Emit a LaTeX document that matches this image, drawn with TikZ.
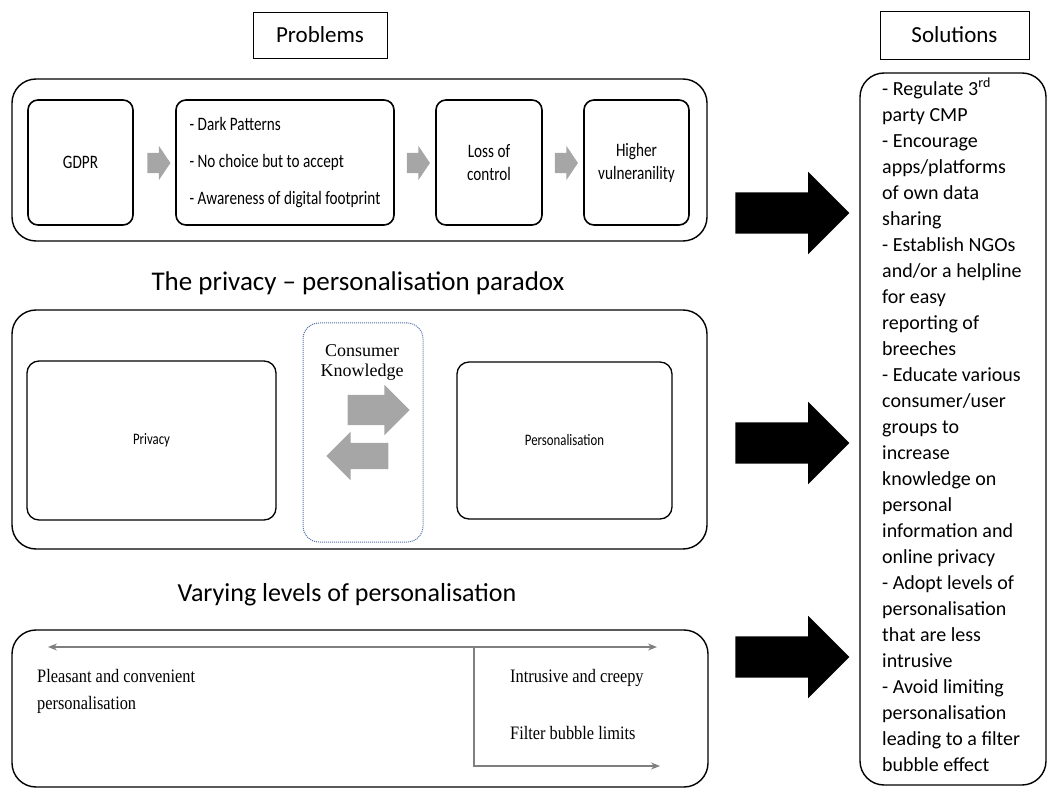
\documentclass[tikz,border=0pt]{standalone}
\usepackage{fontspec}
\setmainfont{Carlito}
\newfontfamily\narrowfont[FakeStretch=0.8]{Carlito}
\newfontfamily\serifnarrow[FakeStretch=0.86]{Liberation Serif}
\newfontfamily\seriffont{Liberation Serif}
\usepackage{tikz}
\usetikzlibrary{calc,shapes.arrows,arrows.meta}
\definecolor{arrowgray}{HTML}{A6A6A6}
\definecolor{linegray}{HTML}{7F7F7F}
\definecolor{dotblue}{HTML}{4F6FA8}

\begin{document}
\begin{tikzpicture}[x=1pt, y=-1pt,
      group/.style={draw, line width=1.4pt, rounded corners=24pt, inner sep=0pt},
      stepbox/.style={draw, line width=1.6pt, rounded corners=10pt, inner sep=0pt, align=center,
        font=\narrowfont\fontsize{19}{23}\selectfont},
      sidebox/.style={draw, line width=1.3pt, rounded corners=12pt, inner sep=0pt,
        font=\narrowfont\fontsize{16}{19}\selectfont},
      headbox/.style={draw, line width=0.8pt, inner sep=0pt, font=\fontsize{23}{27}\selectfont},
      title/.style={inner sep=0pt, font=\fontsize{26}{30}\selectfont},
      grayarrow/.style={single arrow, fill=arrowgray, inner xsep=0pt, single arrow head indent=0pt},
      bigarrow/.style={single arrow, fill=black, inner xsep=0pt, inner ysep=20.5pt,
        single arrow head extend=20.5pt, minimum height=114pt, single arrow head indent=0pt},
      scale line/.style={draw=linegray, line width=1.1pt},
      scale text/.style={inner sep=0pt, anchor=west, align=left,
        font=\serifnarrow\fontsize{19}{27}\selectfont}
    ]
    \useasboundingbox (0,0) rectangle (1053,794);

    % headings
    \node[headbox, minimum width=134pt, minimum height=46pt] (problems) at (320,35) {Problems};
    \node[headbox, minimum width=149pt, minimum height=48pt] (solutions) at (954.5,35) {Solutions};

    % problems row
    \node[group, minimum width=695pt, minimum height=162pt] (top) at (359.5,160) {};
    \node[stepbox, minimum width=105pt, minimum height=125pt] (gdpr) at (80.5,162.5) {GDPR};
    \node[stepbox, minimum width=218pt, minimum height=125pt, align=left,
      font=\narrowfont\fontsize{19}{37}\selectfont] (dark) at (285,162.5)
      {- Dark Patterns\\- No choice but to accept\\- Awareness of digital footprint};
    \node[stepbox, minimum width=106pt, minimum height=125pt] (loss) at (489,162.5) {Loss of\\control};
    \node[stepbox, minimum width=105pt, minimum height=125pt] (higher) at (636.5,162.5) {Higher\\vulneranility};
    \foreach \x/\n in {155.5/g1, 415/g2, 563/g3} {
      \node[grayarrow, inner ysep=10pt, single arrow head extend=7pt, minimum height=23pt,
        single arrow tip angle=112] (\n) at (\x,163) {};
    }

    % paradox
    \node[title, font=\fontsize{27}{30}\selectfont] (paradox) at (358,283) {The privacy -- personalisation paradox};
    \node[group, minimum width=695pt, minimum height=239pt] (mid) at (359.5,429.5) {};
    \node[sidebox, minimum width=249pt, minimum height=159pt] (privacy) at (151.5,440.5) {Privacy};
    \node[sidebox, minimum width=215pt, minimum height=157pt] (personal) at (564.5,440.5) {Personalisation};
    \node[draw=dotblue, densely dotted, line width=1pt, rounded corners=16pt,
      minimum width=120pt, minimum height=219pt] (knowledge) at (363,432.5) {};
    \node[inner sep=0pt, align=center, font=\seriffont\fontsize{18}{20}\selectfont] (knowtext) at (362,362)
      {Consumer\\Knowledge};
    \node[grayarrow, inner ysep=15pt, single arrow head extend=10pt, minimum height=62pt] (toright) at (371,410) {};
    \node[grayarrow, inner ysep=13pt, single arrow head extend=11pt, minimum height=62pt,
      shape border rotate=180] (toleft) at (364,456) {};

    % levels
    \node[title] (levels) at (347,595) {Varying levels of personalisation};
    \node[group, minimum width=696pt, minimum height=157pt] (bot) at (360,708.5) {};
    \coordinate (lend) at (48,647);
    \coordinate (rend) at (657,647);
    \coordinate (split) at (474,647);
    \coordinate (lowbend) at (474,766);
    \coordinate (lowend) at (660,766);
    \draw[scale line, {Stealth[length=9pt,width=7pt]}-{Stealth[length=9pt,width=7pt]}] (lend) -- (rend);
    \draw[scale line, -{Stealth[length=9pt,width=7pt]}] (split) -- (lowbend) -- (lowend);
    \node[scale text] (pleasant) at (37,691) {Pleasant and convenient\\personalisation};
    \node[scale text] (creepy) at (510,678) {Intrusive and creepy};
    \node[scale text] (bubble) at (510,733) {Filter bubble limits};

    % solutions
    \node[group, minimum width=186pt, minimum height=712pt] (sol) at (953,429) {};
    \node[inner sep=0pt, anchor=north west, align=left, font=\fontsize{20}{26}\selectfont] (soltext) at (882,78)
      {- Regulate 3\textsuperscript{rd}\\party CMP\\- Encourage\\apps/platforms\\of own data\\sharing\\
       - Establish NGOs\\and/or a helpline\\for easy\\reporting of\\breeches\\- Educate various\\
       consumer/user\\groups to\\increase\\knowledge on\\personal\\information and\\online privacy\\
       - Adopt levels of\\personalisation\\that are less\\intrusive\\- Avoid limiting\\personalisation\\
       leading to a filter\\bubble effect};

    % arrows into the solutions
    \foreach \y/\n in {213/b1, 443/b2, 657/b3} {
      \node[bigarrow] (\n) at (782,\y) {};
    }
\end{tikzpicture}
\end{document}
